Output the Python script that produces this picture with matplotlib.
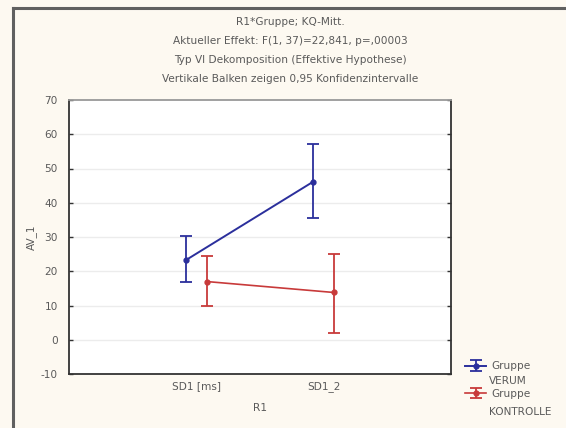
import matplotlib
matplotlib.use("Agg")
import matplotlib.pyplot as plt

categories = ["SD1 [ms]", "SD1_2"]
verum_mean = [23.3, 46.2]
verum_low = [16.8, 35.6]
verum_high = [30.3, 57.1]
kontrolle_mean = [17.0, 13.8]
kontrolle_low = [9.9, 2.1]
kontrolle_high = [24.5, 25.0]
yticks = [-10, 0, 10, 20, 30, 40, 50, 60, 70]
title_lines = ["R1*Gruppe; KQ-Mitt.",
               "Aktueller Effekt: F(1, 37)=22,841, p=,00003",
               "Typ VI Dekomposition (Effektive Hypothese)",
               "Vertikale Balken zeigen 0,95 Konfidenzintervalle"]
legend_first = ["Gruppe", "Gruppe"]
legend_second = ["VERUM", "KONTROLLE"]

plt.rcParams['font.family'] = ['DejaVu Sans']
W, H = 566, 428
fig = plt.figure(figsize=(W/100, H/100), dpi=100)
bg = "#fdf9f1"
fig.patch.set_facecolor(bg)
tc = "#5a5a5a"
fs = 7.6

# outer border (gray lines at top and left)
fig.add_artist(plt.Line2D([13/W, 13/W], [0, 1 - 8/H], color="#606060", lw=2.2, transform=fig.transFigure))
fig.add_artist(plt.Line2D([13/W, 1], [1 - 8/H, 1 - 8/H], color="#606060", lw=2.2, transform=fig.transFigure))

left, right, top, bottom = 69, 451, 100, 374
ax = fig.add_axes([left/W, 1 - bottom/H, (right-left)/W, (bottom-top)/H])
ax.set_facecolor("white")
ax.set_xlim(-1, 2)
ax.set_ylim(-10, 70)
ax.set_yticks(yticks)
ax.set_yticklabels([str(t) for t in yticks])
ax.set_xticks(range(len(categories)))
ax.set_xticklabels(categories)
for y in yticks[1:-1]:
    ax.axhline(y, color="#ececec", lw=1.0, zorder=0)
ax.tick_params(axis='y', direction='in', length=3, width=1, colors="#333333",
               labelcolor=tc, labelsize=fs, right=True, pad=8)
ax.tick_params(axis='x', length=0, labelcolor=tc, labelsize=fs, pad=5)
for s in ["left", "bottom", "right"]:
    ax.spines[s].set_color("#333333")
    ax.spines[s].set_linewidth(1.3)
ax.spines["top"].set_color("#999999")
ax.spines["top"].set_linewidth(1.3)

off = 0.08
xs = list(range(len(categories)))
blue = "#2b2f9c"
red = "#c83a3a"
xv = [x - off for x in xs]
xk = [x + off for x in xs]
eb1 = ax.errorbar(xv, verum_mean,
                  yerr=[[m - l for m, l in zip(verum_mean, verum_low)],
                        [h - m for m, h in zip(verum_mean, verum_high)]],
                  color=blue, lw=1.4, marker='o', ms=3.5, capsize=4, capthick=1.3, elinewidth=1.3)
eb2 = ax.errorbar(xk, kontrolle_mean,
                  yerr=[[m - l for m, l in zip(kontrolle_mean, kontrolle_low)],
                        [h - m for m, h in zip(kontrolle_mean, kontrolle_high)]],
                  color=red, lw=1.2, marker='o', ms=3.5, capsize=4, capthick=1.3, elinewidth=1.3)

ax.set_ylabel("AV_1", fontsize=fs, color=tc, labelpad=3)
ax.set_xlabel("R1", fontsize=fs, color=tc, labelpad=8)

ys = [22, 41, 60, 79]
for t, y in zip(title_lines, ys):
    fig.text(290/W, 1 - y/H, t, ha='center', va='center', fontsize=fs, color=tc)

leg = fig.legend(handles=[eb1, eb2], labels=legend_first, loc='upper left',
                 bbox_to_anchor=(460/W, 1 - 356/H),
                 frameon=False, fontsize=fs, handlelength=2.0, handletextpad=0.5,
                 labelspacing=1.65, borderpad=0)
for t in leg.get_texts():
    t.set_color(tc)
for t, y in zip(legend_second, [381, 412]):
    fig.text(489/W, 1 - y/H, t, ha='left', va='center', fontsize=fs, color=tc)

fig.savefig("out.png", dpi=100, facecolor=bg)
